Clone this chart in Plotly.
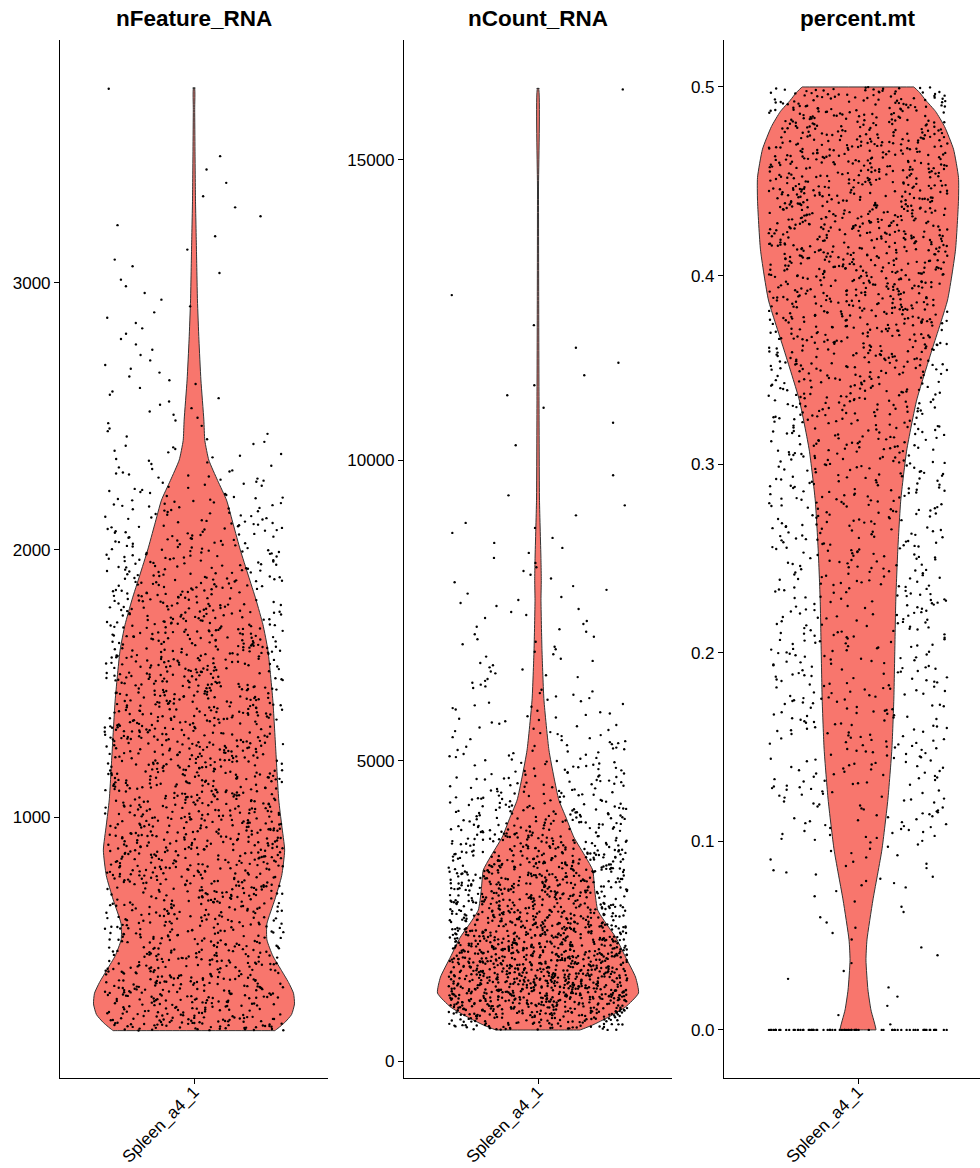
import numpy as np
import plotly.graph_objects as go

# ---------------- data ----------------
CATEGORY = "Spleen_a4_1"
TITLES = ["nFeature_RNA", "nCount_RNA", "percent.mt"]

# violin outlines: value levels and relative density (scale="width", normalised in code)
NF_VIOLIN_Y = [200, 230, 260, 300, 340, 380, 430, 480, 540, 600, 690, 780, 876, 970, 1064,
               1251, 1438, 1625, 1720, 1813, 1906, 2000, 2094, 2187, 2260, 2337, 2410, 2487,
               2637, 2787, 2936, 3124, 3311, 3498, 3650, 3730]
NF_VIOLIN_D = [82, 92, 99, 102, 101, 96, 88, 80, 74, 74, 82, 89, 92, 89, 86,
               83, 80, 75, 70, 63, 55, 47, 40, 33, 24, 15, 11, 10,
               7, 5, 3.5, 2.5, 1.5, 1.0, 0.7, 0.5]

NC_VIOLIN_Y = [516, 600, 732, 900, 1131, 1398, 1730, 2063, 2300, 2512, 2845, 3178, 3394,
               3727, 4060, 4343, 4726, 5175, 6007, 6839, 7670, 8000, 8336, 9334, 11000,
               12662, 14500, 16190]
NC_VIOLIN_D = [42, 55, 71, 88, 101, 98, 88, 78, 68, 60, 57, 55, 48,
               36, 28, 21, 16, 11, 6, 4, 3, 3.3, 3, 1.5, 1.0,
               0.7, 0.5, 0.5]

MT_VIOLIN_Y = [0.0, 0.0106, 0.0212, 0.037, 0.0477, 0.0689, 0.0954, 0.122, 0.1485, 0.175,
               0.2015, 0.228, 0.2545, 0.281, 0.3075, 0.334, 0.36, 0.387, 0.4136, 0.44,
               0.452, 0.467, 0.479, 0.487, 0.493, 0.497, 0.5]
MT_VIOLIN_D = [18, 13, 10, 8, 9, 15, 24, 30, 34, 36,
               37, 38, 40, 43, 49, 59, 74, 90, 98, 101,
               101, 96, 87, 78, 68, 62, 56]

# cells: value bins (edges) and number of cells in each bin
NF_EDGES = [200, 250, 300, 400, 500, 600, 700, 800, 900, 1000, 1100, 1200, 1300, 1400, 1500,
            1600, 1700, 1800, 1900, 2000, 2100, 2200, 2300, 2400, 2500, 2600, 2700, 2800,
            2900, 3000, 3100, 3200, 3300, 3400, 3500, 3720, 3735]
NF_COUNTS = [70, 49, 115, 100, 88, 91, 100, 108, 106, 101, 99, 98, 95, 94, 90,
             86, 78, 69, 59, 49, 39, 26, 16, 10, 8, 7, 5, 5,
             4, 4, 2, 3, 2, 2, 0, 1]

NC_EDGES = [516, 750, 1000, 1250, 1500, 1750, 2000, 2250, 2500, 2750, 3000, 3250, 3500,
            3750, 4000, 4250, 4500, 4750, 5000, 5250, 5500, 5750, 6000, 6250, 6500, 6750,
            7000, 7250, 7500, 7750, 8000, 8250, 8500, 8750, 9000, 9500, 10000, 10500,
            11000, 11500, 12000, 12500, 13000, 16150, 16200]
NC_COUNTS = [88, 141, 168, 163, 151, 140, 126, 110, 96, 95, 91, 81,
             66, 54, 45, 35, 29, 24, 19, 15, 12, 11, 9, 8, 7,
             6, 6, 5, 5, 4, 4, 3, 3, 3, 3, 1, 1,
             2, 3, 2, 1, 1, 0, 1]

MT_ZERO_COUNT = 75
MT_EDGES = [0.0005, 0.025, 0.05, 0.075, 0.1, 0.125, 0.15, 0.175, 0.2, 0.225, 0.25, 0.275,
            0.3, 0.325, 0.35, 0.375, 0.4, 0.425, 0.45, 0.475, 0.5]
MT_COUNTS = [5, 6, 9, 22, 48, 58, 63, 66, 68, 72, 77, 84,
             96, 112, 138, 166, 184, 190, 182, 165]

Y_TICKS = [[1000, 2000, 3000], [0, 5000, 10000, 15000], [0.0, 0.1, 0.2, 0.3, 0.4, 0.5]]
Y_RANGES = [[22.5, 3910], [-283, 16997], [-0.0255, 0.5249]]

# ---------------- styling / layout constants ----------------
W, H = 980, 1168
FILL = "#F8766D"
OUTLINE = "#333333"
FONT = "Liberation Sans, Arial, Helvetica, sans-serif"
X_DOMAINS_PX = [(60, 328), (404, 672), (724, 980)]
PX_PER_UNIT = 268 / 1.2
Y_DOMAIN = [(H - 1078) / H, (H - 40) / H]
VIOLIN_HALF = 0.45
JITTER = 0.4
EDGE_EPS = 0.008  # helper vertices on the flat (trimmed) ends keep spline corners tight

# horizontal jitter, as geom_jitter does (fixed seed -> reproducible positions)
rng = np.random.default_rng(20240611)


def expand(edges, counts):
    """place each bin's cells evenly over the bin, with horizontal jitter"""
    ys = []
    for lo, hi, n in zip(edges[:-1], edges[1:], counts):
        for j in range(n):
            ys.append(lo + (j + 0.5) / n * (hi - lo))
    xs = 1 + rng.uniform(-JITTER, JITTER, len(ys))
    return list(xs), ys


def violin_path(vy, vd):
    d = np.asarray(vd, float)
    d = d / d.max() * VIOLIN_HALF
    y = list(map(float, vy))
    left = [1 - v for v in d]
    right = [1 + v for v in d]
    ytop, ybot = y[-1], y[0]
    xs = (left
          + [left[-1] + EDGE_EPS, right[-1] - EDGE_EPS]
          + right[::-1]
          + [right[0] - EDGE_EPS, left[0] + EDGE_EPS, left[0]])
    ys = (y
          + [ytop, ytop]
          + y[::-1]
          + [ybot, ybot, ybot])
    return xs, ys


fig = go.Figure()

violins = [(NF_VIOLIN_Y, NF_VIOLIN_D), (NC_VIOLIN_Y, NC_VIOLIN_D), (MT_VIOLIN_Y, MT_VIOLIN_D)]
points = [expand(NF_EDGES, NF_COUNTS), expand(NC_EDGES, NC_COUNTS)]
zx, zy = expand([0.0, 0.0], [MT_ZERO_COUNT])
mx, my = expand(MT_EDGES, MT_COUNTS)
points.append((zx + mx, zy + my))

for i in range(3):
    ax = "" if i == 0 else str(i + 1)
    vx, vy = violin_path(*violins[i])
    fig.add_trace(go.Scatter(x=vx, y=vy, mode="lines", fill="toself", fillcolor=FILL,
                             line=dict(color=OUTLINE, width=1, shape="spline", smoothing=0.5),
                             xaxis="x" + ax, yaxis="y" + ax, hoverinfo="skip",
                             showlegend=False))
    fig.add_trace(go.Scatter(x=points[i][0], y=points[i][1], mode="markers",
                             marker=dict(color="black", size=2.4, line=dict(width=0)),
                             xaxis="x" + ax, yaxis="y" + ax, showlegend=False))

layout = dict(width=W, height=H, margin=dict(l=0, r=0, t=0, b=0),
              paper_bgcolor="white", plot_bgcolor="white",
              font=dict(family=FONT, color="black", size=17), showlegend=False)

annotations = []
for i in range(3):
    ax = "" if i == 0 else str(i + 1)
    x0, x1 = X_DOMAINS_PX[i]
    width_units = (x1 - x0) / PX_PER_UNIT
    layout["xaxis" + ax] = dict(
        domain=[x0 / W, x1 / W], range=[0.4, 0.4 + width_units], anchor="y" + ax,
        showline=True, linecolor="black", linewidth=1.1, ticks="outside", ticklen=5,
        tickcolor="black", tickwidth=1, tickvals=[1], ticktext=[CATEGORY], tickangle=-45,
        ticklabelstandoff=-9,
        tickfont=dict(size=17, family=FONT, color="black"), showgrid=False, zeroline=False,
        automargin=False)
    layout["yaxis" + ax] = dict(
        domain=Y_DOMAIN, range=Y_RANGES[i], anchor="x" + ax,
        showline=True, linecolor="black", linewidth=1.1, ticks="outside", ticklen=5,
        tickcolor="black", tickwidth=1, tickvals=Y_TICKS[i],
        tickformat=".1f" if i == 2 else "d",
        tickfont=dict(size=17, family=FONT, color="black"), showgrid=False, zeroline=False,
        automargin=False)
    center = x0 + PX_PER_UNIT * 0.6
    annotations.append(dict(text="<b>%s</b>" % TITLES[i], x=center / W, y=1 - 18 / H,
                            xref="paper", yref="paper", xanchor="center", yanchor="middle",
                            showarrow=False, font=dict(size=22.5, family=FONT, color="black")))
layout["annotations"] = annotations
fig.update_layout(**layout)
fig.write_html("out.html", config={"displayModeBar": False},
               post_script="document.body.style.margin='0';document.body.style.overflow='hidden';")
